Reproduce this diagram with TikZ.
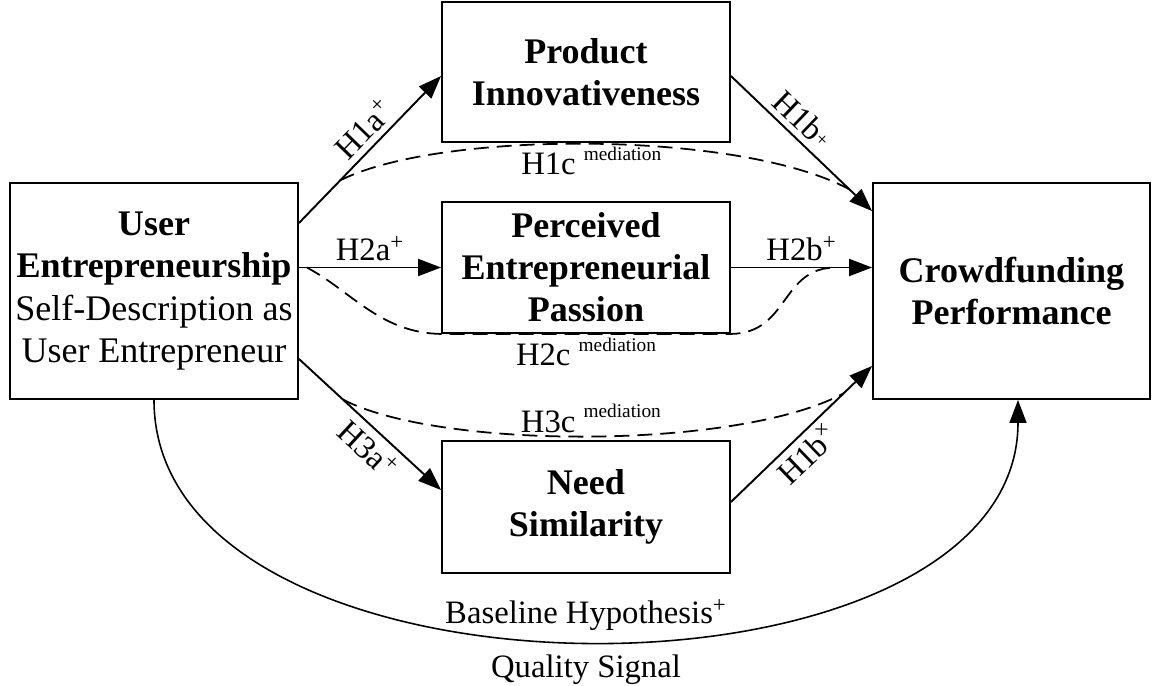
\documentclass[tikz,border=0pt]{standalone}
\usepackage{fontspec}
\setmainfont{Liberation Serif}
\usetikzlibrary{arrows.meta}
\newcommand{\medsup}{\raisebox{0.45em}{\fontsize{11}{13}\selectfont mediation}}
\newcommand{\plussup}{\textsuperscript{+}}
\newcommand{\timessup}{\textsuperscript{×}}
\tikzset{
  box/.style={draw,line width=1.1pt,align=center,inner sep=2pt,font=\fontsize{20.5}{24}\selectfont},
  hyp/.style={-{Triangle[length=0.46cm,width=0.34cm]},line width=1.1pt},
  medpath/.style={dash pattern=on 0.3cm off 0.16cm,line width=1pt},
}
\begin{document}
\begin{tikzpicture}[x=0.02cm,y=0.02cm,font=\fontsize{18.6}{22}\selectfont]
\useasboundingbox (0,0) rectangle (1154,-686);
% constructs
\node[box,minimum width=5.76cm,minimum height=4.32cm] (user) at (154,-291) {\textbf{User}\\\textbf{Entrepreneurship}\\Self-Description as\\User Entrepreneur};
\node[box,minimum width=5.76cm,minimum height=2.8cm] (product) at (586,-72) {\textbf{Product}\\\textbf{Innovativeness}};
\node[box,minimum width=5.76cm,minimum height=2.62cm] (passion) at (586,-267.5) {\textbf{Perceived}\\\textbf{Entrepreneurial}\\\textbf{Passion}};
\node[box,minimum width=5.76cm,minimum height=2.64cm] (need) at (586,-507) {\textbf{Need}\\\textbf{Similarity}};
\node[box,minimum width=5.54cm,minimum height=4.32cm] (crowd) at (1011.5,-291) {\textbf{Crowdfunding}\\\textbf{Performance}};
% hypotheses
\draw[hyp] ([yshift=-0.82cm]user.north east) -- coordinate[pos=0.29] (h1cs) node[pos=0.55,sloped,above] (h1alab) {H1a\plussup} ([yshift=-0.08cm]product.west);
\draw[hyp] ([yshift=-0.08cm]product.east) -- coordinate[pos=0.84] (h1ce) node[pos=0.42,sloped,above] (h1blab) {H1b\raisebox{0.1em}{\fontsize{11}{11}\selectfont +}} ([yshift=-0.58cm]crowd.north west);
\draw[hyp] (user.east |- passion.west) -- coordinate[pos=0.055] (h2cs) node[midway,above] (h2alab) {H2a\plussup} (passion.west);
\draw[hyp] (passion.east) -- coordinate[pos=0.75] (h2ce) node[midway,above] (h2blab) {H2b\plussup} (passion.east -| crowd.west);
\draw[hyp] ([yshift=0.82cm]user.south east) -- coordinate[pos=0.31] (h3cs) node[pos=0.58,sloped,below] (h3alab) {H3a\plussup} ([yshift=0.34cm]need.west);
\draw[hyp] ([yshift=0.1cm]need.east) -- coordinate[pos=0.8] (h3ce) node[pos=0.45,sloped,below] (h1blab2) {H1b\timessup} ([yshift=0.68cm]crowd.south west);
% mediation paths
\draw[medpath] (h1cs) .. controls (440,-130) and (740,-130) .. node[pos=0.5,anchor=base,yshift=-0.62cm] (h1clab) {H1c\ \medsup} (h1ce);
\draw[medpath] (h2cs) .. controls (350,-290) and (380,-333) .. (passion.south west) -- node[midway,anchor=base,yshift=-0.64cm] (h2clab) {H2c\ \medsup} (passion.south east) .. controls (790,-333) and (780,-267) .. (h2ce);
\draw[medpath] (h3cs) .. controls (440,-450) and (740,-450) .. node[pos=0.5,anchor=base,yshift=0.08cm] (h3clab) {H3c\ \medsup} (h3ce);
% baseline
\draw[hyp,line width=0.9pt] (user.south) .. controls +(0,-321) and +(0,-321) .. node[pos=0.5,anchor=base,yshift=0.34cm] (baselab) {Baseline Hypothesis\plussup} node[pos=0.5,anchor=base,yshift=-0.74cm] (qualab) {Quality Signal} ([xshift=0.13cm]crowd.south);
\end{tikzpicture}
\end{document}
